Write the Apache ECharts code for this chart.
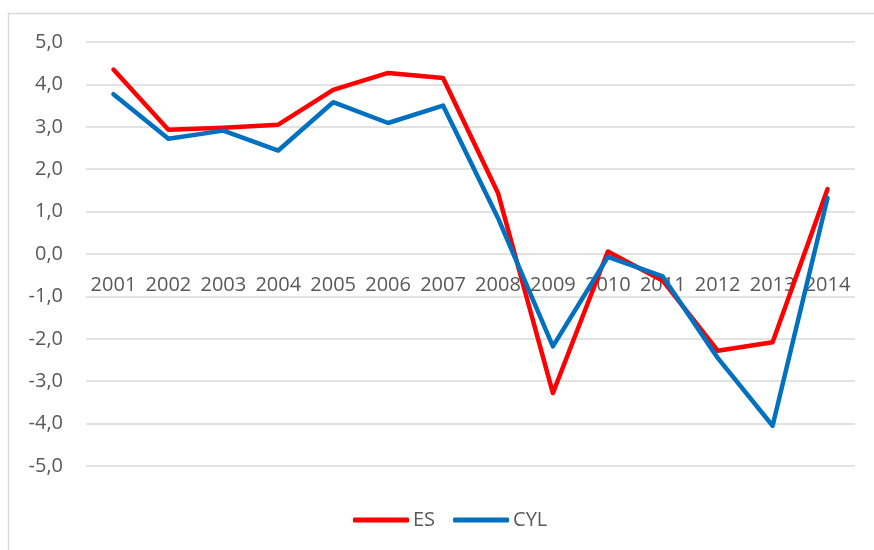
<!DOCTYPE html>
<html>
<head>
<meta charset="utf-8">
<script src="https://cdn.jsdelivr.net/npm/echarts@6/dist/echarts.min.js"></script>
<style>html,body{margin:0;padding:0;background:#fff}#c{width:874px;height:550px}</style>
</head>
<body>
<div id="c"></div>
<script>
var years = ['2001','2002','2003','2004','2005','2006','2007','2008','2009','2010','2011','2012','2013','2014'];
var esValues = [4.35, 2.93, 2.98, 3.05, 3.87, 4.27, 4.15, 1.44, -3.28, 0.06, -0.63, -2.28, -2.08, 1.53];
var cylValues = [3.77, 2.72, 2.91, 2.44, 3.58, 3.09, 3.50, 0.85, -2.18, -0.07, -0.53, -2.45, -4.05, 1.32];
var seriesNames = ['ES', 'CYL'];

var FONT = '"Open Sans", sans-serif';
var chart = echarts.init(document.getElementById('c'), null, {renderer: 'canvas'});
chart.setOption({
  animation: false,
  backgroundColor: '#fff',
  graphic: [{
    type: 'rect', silent: true,
    shape: {x: 8.5, y: 13.5, width: 1000, height: 1000},
    style: {fill: 'none', stroke: '#d9d9d9', lineWidth: 1.5}
  }],
  grid: {left: 86, right: 19, top: 42, bottom: 84, containLabel: false},
  legend: {
    data: seriesNames,
    left: 353, top: 510, padding: 0,
    itemWidth: 56, itemHeight: 5, itemGap: 18,
    icon: 'roundRect',
    textStyle: {fontFamily: FONT, fontSize: 20, color: '#595959', padding: [0,0,0,-1]}
  },
  xAxis: {
    type: 'category', data: years,
    position: 'bottom', offset: -211.7,
    axisLine: {show: false, onZero: false},
    axisTick: {show: false},
    axisLabel: {interval: 0, margin: 21, fontFamily: FONT, fontSize: 20, color: '#595959'},
    splitLine: {show: false}
  },
  yAxis: {
    type: 'value', min: -5, max: 5, interval: 1,
    axisLine: {show: false}, axisTick: {show: false},
    axisLabel: {margin: 23, fontFamily: FONT, fontSize: 20, color: '#595959',
      formatter: function (v) { return v.toFixed(1).replace('.', ','); }},
    splitLine: {lineStyle: {color: '#d9d9d9', width: 1.5}}
  },
  series: [
    {name: seriesNames[0], type: 'line', data: esValues, symbol: 'none',
     itemStyle: {color: '#ff0000'},
     lineStyle: {color: '#ff0000', width: 4.5, cap: 'round', join: 'round'}},
    {name: seriesNames[1], type: 'line', data: cylValues, symbol: 'none',
     itemStyle: {color: '#0070c0'},
     lineStyle: {color: '#0070c0', width: 4.5, cap: 'round', join: 'round'}}
  ]
});
</script>
</body>
</html>
